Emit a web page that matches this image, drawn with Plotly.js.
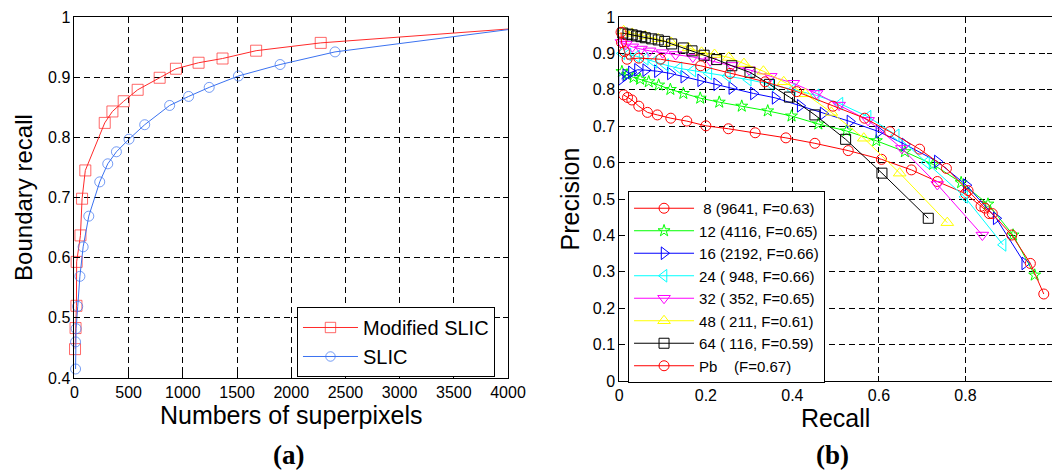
<!DOCTYPE html>
<html>
<head>
<meta charset="utf-8">
<script src="https://cdn.plot.ly/plotly-3.0.1.min.js"></script>
<style>html,body{margin:0;padding:0;background:#fff;}#chart{width:1052px;height:475px;}</style>
</head>
<body>
<div id="chart"></div>
<script>
// ---------- Panel (a): boundary recall vs number of superpixels ----------
const modSlicX = [5, 10, 18, 20, 55, 70, 100, 279, 350, 454, 583, 786, 936, 1145, 1366, 1676, 2272, 4000];
const modSlicY = [0.448, 0.483, 0.520, 0.593, 0.637, 0.698, 0.745, 0.824, 0.843, 0.860, 0.879, 0.899, 0.914, 0.924, 0.931, 0.944, 0.957, 0.980];
const slicX = [10, 10, 15, 30, 50, 80, 132, 233, 307, 387, 503, 648, 878, 1053, 1243, 1513, 1897, 2404, 4000];
const slicY = [0.415, 0.460, 0.482, 0.519, 0.569, 0.618, 0.669, 0.726, 0.756, 0.776, 0.797, 0.821, 0.853, 0.868, 0.883, 0.902, 0.921, 0.942, 0.979];
const seriesA = ["Modified SLIC", "SLIC"];

// ---------- Panel (b): precision / recall ----------
const legendB = ["\u00a08 (9641, F=0.63)", "12 (4116, F=0.65)", "16 (2192, F=0.66)", "24 (\u00a0948, F=0.66)",
                 "32 (\u00a0352, F=0.65)", "48 (\u00a0211, F=0.61)", "64 (\u00a0116, F=0.59)", "Pb\u00a0\u00a0\u00a0\u00a0(F=0.67)"];
const r8  = [0.01,0.019,0.029,0.045,0.065,0.088,0.119,0.156,0.2,0.252,0.314,0.385,0.452,0.529,0.606,0.675,0.735,0.8,0.836,0.855];
const p8  = [0.786,0.779,0.772,0.755,0.738,0.731,0.722,0.714,0.701,0.693,0.682,0.668,0.653,0.633,0.609,0.58,0.548,0.515,0.48,0.46];
const r12 = [0.006,0.018,0.033,0.048,0.068,0.091,0.118,0.148,0.187,0.231,0.283,0.343,0.398,0.46,0.525,0.594,0.66,0.725,0.79,0.852,0.91,0.96];
const p12 = [0.85,0.841,0.834,0.829,0.822,0.813,0.801,0.79,0.777,0.766,0.755,0.742,0.728,0.706,0.687,0.66,0.63,0.595,0.545,0.486,0.401,0.291];
const r16 = [0.005,0.015,0.028,0.042,0.061,0.088,0.118,0.149,0.188,0.225,0.26,0.31,0.36,0.418,0.471,0.533,0.6,0.66,0.735,0.802,0.871,0.937];
const p16 = [0.83,0.84,0.848,0.855,0.854,0.851,0.845,0.836,0.826,0.815,0.805,0.79,0.778,0.756,0.735,0.713,0.685,0.65,0.603,0.538,0.447,0.323];
const r24 = [0.006,0.02,0.04,0.06,0.08,0.107,0.138,0.17,0.207,0.25,0.298,0.35,0.4,0.455,0.51,0.575,0.64,0.71,0.798,0.887];
const p24 = [0.9,0.897,0.892,0.885,0.877,0.868,0.859,0.853,0.845,0.838,0.828,0.815,0.8,0.785,0.762,0.726,0.675,0.6,0.506,0.374];
const r32 = [0.005,0.015,0.03,0.05,0.07,0.1,0.13,0.17,0.21,0.26,0.3,0.35,0.402,0.456,0.508,0.575,0.653,0.735,0.839];
const p32 = [0.93,0.925,0.918,0.912,0.907,0.902,0.897,0.89,0.88,0.867,0.855,0.837,0.818,0.79,0.758,0.716,0.639,0.54,0.401];
const r48 = [0.01,0.03,0.06,0.09,0.12,0.16,0.19,0.22,0.253,0.288,0.333,0.38,0.43,0.49,0.565,0.648,0.758];
const p48 = [0.962,0.955,0.948,0.94,0.93,0.915,0.903,0.897,0.889,0.872,0.851,0.822,0.789,0.738,0.667,0.571,0.435];
const r64 = [0.008,0.02,0.03,0.04,0.05,0.06,0.075,0.09,0.105,0.121,0.148,0.168,0.196,0.225,0.26,0.302,0.347,0.393,0.452,0.523,0.607,0.714];
const p64 = [0.956,0.953,0.951,0.948,0.946,0.943,0.94,0.937,0.933,0.926,0.915,0.907,0.895,0.883,0.866,0.848,0.815,0.78,0.731,0.664,0.571,0.447];
const rPb = [0.004,0.005,0.012,0.018,0.045,0.095,0.188,0.256,0.337,0.41,0.494,0.567,0.625,0.694,0.756,0.806,0.845,0.862,0.907,0.95,0.981];
const pPb = [0.958,0.93,0.905,0.884,0.887,0.884,0.866,0.845,0.822,0.795,0.755,0.722,0.685,0.637,0.584,0.523,0.475,0.46,0.401,0.323,0.239];

const FONT = "Liberation Sans, Arial, Helvetica, sans-serif";

function markSizes(n, s) { const a = new Array(n).fill(s); a[n - 1] = 0; return a; }

const traces = [
  {x: modSlicX, y: modSlicY, name: seriesA[0], type: "scatter", mode: "lines+markers", xaxis: "x", yaxis: "y",
   line: {color: "#ff2a2a", width: 1}, marker: {symbol: "square-open", size: markSizes(modSlicX.length, 11), color: "#ff2a2a", line: {width: 1}},
   cliponaxis: false, legend: "legend"},
  {x: slicX, y: slicY, name: seriesA[1], type: "scatter", mode: "lines+markers", xaxis: "x", yaxis: "y",
   line: {color: "#3b72f0", width: 1}, marker: {symbol: "circle-open", size: markSizes(slicX.length, 10), color: "#3b72f0", line: {width: 1}},
   cliponaxis: false, legend: "legend"}
];

const bSeries = [
  [r8, p8, "#ff0000", "circle-open", 10],
  [r12, p12, "#00ff00", "star-open", 9],
  [r16, p16, "#0000ff", "triangle-right-open", 11],
  [r24, p24, "#00ffff", "triangle-left-open", 11],
  [r32, p32, "#ff00ff", "triangle-down-open", 11],
  [r48, p48, "#ffff00", "triangle-up-open", 11],
  [r64, p64, "#000000", "square-open", 10],
  [rPb, pPb, "#ff0000", "circle-open", 10]
];
bSeries.forEach((s, i) => {
  traces.push({x: s[0], y: s[1], name: legendB[i], type: "scatter", mode: "lines+markers", xaxis: "x2", yaxis: "y2",
    line: {color: s[2], width: 1}, marker: {symbol: s[3], size: s[4], color: s[2], line: {width: 1, color: s[2]}},
    cliponaxis: false, legend: "legend2"});
});

const gridCommon = {showgrid: true, gridcolor: "#000", griddash: "6px,4px", gridwidth: 1, zeroline: false,
  showline: true, linecolor: "#000", linewidth: 1, ticks: "inside", ticklen: 5, tickcolor: "#000",
  tickfont: {family: FONT, size: 16, color: "#000"}};

const layout = {
  width: 1052, height: 475,
  margin: {l: 0, r: 0, t: 0, b: 0},
  paper_bgcolor: "#fff", plot_bgcolor: "#fff",
  font: {family: FONT, color: "#000"},
  showlegend: true,
  xaxis: Object.assign({}, gridCommon, {domain: [0.0708, 0.4829], range: [0, 4000], tick0: 0, dtick: 500, anchor: "y", mirror: "ticks",
    title: {text: "Numbers of superpixels", font: {family: FONT, size: 25}, standoff: 0}}),
  yaxis: Object.assign({}, gridCommon, {domain: [0.2042, 0.9642], range: [0.4, 1], tick0: 0.4, dtick: 0.1, anchor: "x", mirror: "ticks",
    title: {text: "Boundary recall", font: {family: FONT, size: 24}, standoff: 8}}),
  xaxis2: Object.assign({}, gridCommon, {domain: [0.5887, 1.0], range: [0, 1.0], tick0: 0, dtick: 0.2, anchor: "y2", mirror: "ticks",
    title: {text: "Recall", font: {family: FONT, size: 25}, standoff: 0}}),
  yaxis2: Object.assign({}, gridCommon, {domain: [0.1979, 0.9642], range: [0, 1], tick0: 0, dtick: 0.1, anchor: "x2", mirror: "ticks",
    title: {text: "Precision", font: {family: FONT, size: 25}, standoff: 6}}),
  legend: {x: 0.2823, y: 0.3537, xanchor: "left", yanchor: "top", bgcolor: "#fff", bordercolor: "#000", borderwidth: 1,
    font: {family: FONT, size: 20, color: "#000"}, itemwidth: 55, tracegroupgap: 0},
  legend2: {x: 0.597, y: 0.5979, xanchor: "left", yanchor: "top", bgcolor: "#fff", bordercolor: "#000", borderwidth: 1,
    font: {family: FONT, size: 15, color: "#000"}, itemwidth: 60, tracegroupgap: 0},
  annotations: [
    {text: "<b>(a)</b>", x: 0.2738, y: 1 - 455 / 475, xref: "paper", yref: "paper", yanchor: "middle", xanchor: "center", showarrow: false,
     font: {family: "Liberation Serif, Times New Roman, serif", size: 27, color: "#000"}},
    {text: "<b>(b)</b>", x: 0.7918, y: 1 - 455 / 475, xref: "paper", yref: "paper", yanchor: "middle", xanchor: "center", showarrow: false,
     font: {family: "Liberation Serif, Times New Roman, serif", size: 27, color: "#000"}}
  ]
};

Plotly.newPlot("chart", traces, layout, {staticPlot: true, displayModeBar: false});
</script>
</body>
</html>
